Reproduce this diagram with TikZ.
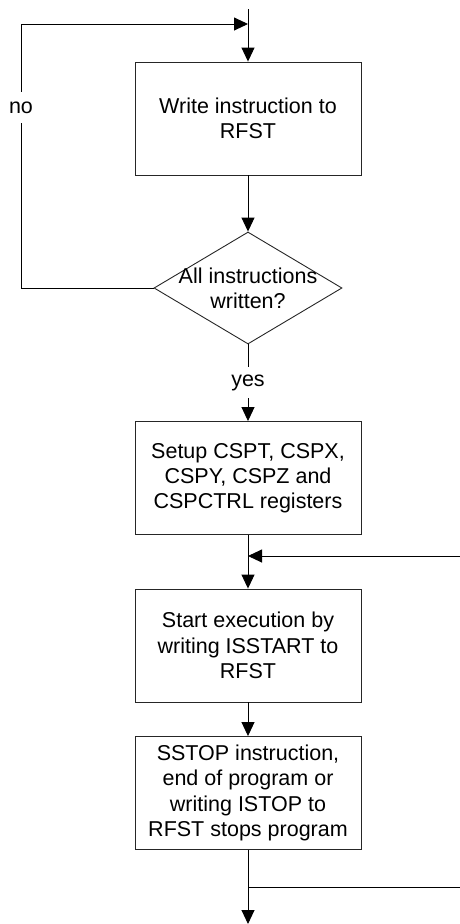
\documentclass[tikz,border=0pt]{standalone}
\usepackage{fontspec}
\setmainfont{Liberation Sans}
\usetikzlibrary{shapes.geometric,arrows.meta}
\begin{document}
\begin{tikzpicture}[x=1pt,y=-1pt,
  every node/.style={font=\fontsize{21.5}{25.2}\selectfont},
  stepbox/.style={draw=black!85,line width=0.9pt,minimum width=226pt,minimum height=113pt,inner sep=0pt,align=center},
  decision/.style={draw=black!85,line width=0.9pt,shape=diamond,aspect=1.679,minimum width=188pt,minimum height=112pt,inner sep=0pt},
  txt/.style={align=center,inner sep=0pt},
  lbl/.style={inner sep=0pt,minimum height=31pt},
  conn/.style={draw=black,line width=0.9pt},
  arr/.style={conn,-{Triangle[length=14pt,width=13pt]}}]
\useasboundingbox (0,0) rectangle (460,924);
\coordinate (top) at (248,9);
\coordinate (join1) at (248,24);
\node[stepbox] (b1) at (248,118.5) {Write instruction to\\RFST};
\node[decision] (d) at (248,288) {};
\node[txt] (dt) at (248,288) {All instructions\\written?};
\node[lbl] (no) at (21,107.5) {no};
\node[lbl] (yes) at (248,382.5) {yes};
\node[stepbox] (b2) at (248,478) {Setup CSPT, CSPX,\\CSPY, CSPZ and\\CSPCTRL registers};
\coordinate (join2) at (248,556);
\coordinate (right2) at (460,556);
\node[stepbox] (b3) at (248,645.5) {Start execution by\\writing ISSTART to\\RFST};
\node[stepbox] (b4) at (248,793) {SSTOP instruction,\\end of program or\\writing ISTOP to\\RFST stops program};
\coordinate (split) at (248,887);
\coordinate (right4) at (460,887);
\coordinate (bottom) at (248,924);
\draw[arr] (top) -- (b1.north);
\draw[arr] (b1.south) -- (d.north);
\draw[conn] (d.west) -| (no.south);
\draw[arr] (no.north) |- (join1);
\draw[conn] (d.south) -- (yes.north);
\draw[arr] (yes.south) -- (b2.north);
\draw[arr] (b2.south) -- (b3.north);
\draw[arr] (right2) -- (join2);
\draw[arr] (b3.south) -- (b4.north);
\draw[arr] (b4.south) -- (bottom);
\draw[conn] (split) -- (right4);
\end{tikzpicture}
\end{document}
